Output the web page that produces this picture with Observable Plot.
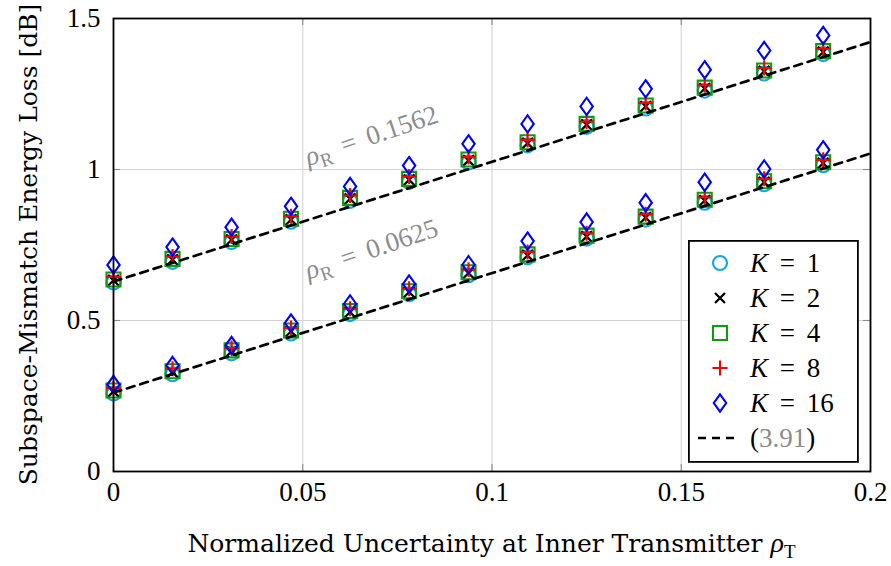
<!DOCTYPE html>
<html><head><meta charset="utf-8">
<script src="https://cdn.jsdelivr.net/npm/d3@7"></script>
<script src="https://cdn.jsdelivr.net/npm/@observablehq/plot@0.6"></script>
<style>
body{margin:0;background:#fff;}
#wrap{position:relative;width:891px;height:566px;overflow:hidden;}
#legend{position:absolute;left:688px;top:240px;}
</style></head><body><div id="wrap"></div>
<script>
// x values: normalized uncertainty at inner transmitter
const rhoT = [0, 0.0156, 0.0312, 0.0469, 0.0625, 0.0781, 0.0938, 0.1094, 0.125, 0.1406, 0.1562, 0.1719, 0.1875];

// rho_R = 0.1562 (upper group)
const hiK1  = [0.626, 0.694, 0.760, 0.827, 0.896, 0.959, 1.023, 1.080, 1.141, 1.202, 1.261, 1.318, 1.382];
const hiK2  = [0.633, 0.701, 0.767, 0.834, 0.903, 0.966, 1.030, 1.087, 1.148, 1.209, 1.268, 1.325, 1.389];
const hiK4  = [0.636, 0.704, 0.770, 0.837, 0.906, 0.969, 1.033, 1.090, 1.151, 1.212, 1.271, 1.328, 1.392];
const hiK8  = [0.644, 0.712, 0.778, 0.845, 0.914, 0.977, 1.041, 1.098, 1.159, 1.220, 1.279, 1.336, 1.400];
const hiK16 = [0.684, 0.743, 0.809, 0.878, 0.944, 1.013, 1.085, 1.151, 1.209, 1.267, 1.330, 1.394, 1.444];

// rho_R = 0.0625 (lower group)
const loK1  = [0.258, 0.322, 0.391, 0.457, 0.521, 0.587, 0.650, 0.709, 0.771, 0.834, 0.890, 0.951, 1.014];
const loK2  = [0.265, 0.329, 0.398, 0.464, 0.528, 0.594, 0.657, 0.716, 0.778, 0.841, 0.897, 0.958, 1.021];
const loK4  = [0.268, 0.332, 0.401, 0.467, 0.531, 0.597, 0.660, 0.719, 0.781, 0.844, 0.900, 0.961, 1.024];
const loK8  = [0.276, 0.340, 0.409, 0.475, 0.539, 0.605, 0.668, 0.727, 0.789, 0.852, 0.908, 0.969, 1.032];
const loK16 = [0.288, 0.351, 0.417, 0.492, 0.555, 0.621, 0.685, 0.763, 0.826, 0.890, 0.958, 1.002, 1.065];

// approximation (3.91): endpoints of the dashed lines
const approxX  = [0, 0.2];
const approxHi = [0.629, 1.422];
const approxLo = [0.261, 1.053];

const xTicks = [0, 0.05, 0.1, 0.15, 0.2];
const xTickLabels = ["0", "0.05", "0.1", "0.15", "0.2"];
const yTicks = [0, 0.5, 1, 1.5];
const yTickLabels = ["0", "0.5", "1", "1.5"];

const kLabels = ["1", "2", "4", "8", "16"];
const annoLabels = ["ρR = 0.1562", "ρR = 0.0625"];
const annoX = [0.0515, 0.0515];
const annoY = [1.012, 0.636];

const xLabel = "Normalized Uncertainty at Inner Transmitter ";
const yLabel = "Subspace-Mismatch Energy Loss [dB]";

// ---- build tables ----
const pts = (arr) => rhoT.map((x, i) => ({x, y: arr[i]}));
const k1 = [...pts(hiK1), ...pts(loK1)];
const k2 = [...pts(hiK2), ...pts(loK2)];
const k4 = [...pts(hiK4), ...pts(loK4)];
const k8 = [...pts(hiK8), ...pts(loK8)];
const k16 = [...pts(hiK16), ...pts(loK16)];
const lines = [
  ...approxX.map((x, i) => ({x, y: approxHi[i], g: "hi"})),
  ...approxX.map((x, i) => ({x, y: approxLo[i], g: "lo"}))
];
const annos = annoLabels.map((label, i) => ({x: annoX[i], y: annoY[i], label}));

const tallDiamond = {
  draw(ctx, size) {
    const r = Math.sqrt(size / Math.PI);
    const w = r * 0.86, h = r * 1.2;
    ctx.moveTo(0, -h); ctx.lineTo(w, 0); ctx.lineTo(0, h); ctx.lineTo(-w, 0); ctx.closePath();
  }
};

const C1 = "#12a6e8", C2 = "#000000", C4 = "#119a11", C8 = "#ff0000", C16 = "#0000ff";
const gridC = "#d2d2d2", tickC = "#8a8a8a";
const SERIF = '"Liberation Serif","Times New Roman",Times,"DejaVu Serif",serif';
const LABELF = '"DejaVu Serif",serif';

const plot = Plot.plot({
  width: 891, height: 566,
  marginLeft: 113, marginRight: 21, marginTop: 18, marginBottom: 95,
  style: {fontFamily: SERIF, fontSize: "27px", background: "white", color: "black", overflow: "visible"},
  x: {domain: [0, 0.2], ticks: xTicks, tickFormat: d => xTickLabels[xTicks.indexOf(d)], tickSize: 0, tickPadding: 10, label: null},
  y: {domain: [0, 1.5], ticks: yTicks, tickFormat: d => yTickLabels[yTicks.indexOf(d)], tickSize: 0, tickPadding: 13, label: null},
  marks: [
    Plot.gridX(xTicks, {stroke: gridC, strokeOpacity: 1, strokeWidth: 1.1}),
    Plot.gridY(yTicks, {stroke: gridC, strokeOpacity: 1, strokeWidth: 1.1}),
    Plot.ruleX(xTicks, {stroke: tickC, strokeWidth: 1.1, insetTop: 446}),
    Plot.ruleX(xTicks, {stroke: tickC, strokeWidth: 1.1, insetBottom: 446}),
    Plot.ruleY(yTicks, {stroke: tickC, strokeWidth: 1.1, insetRight: 750}),
    Plot.ruleY(yTicks, {stroke: tickC, strokeWidth: 1.1, insetLeft: 750}),
    Plot.text(annos, {x: "x", y: "y", text: "label", textAnchor: "start", lineAnchor: "bottom", rotate: -18.5, fill: "#8c8c8c", fontSize: 27}),
    Plot.dot(k1, {x: "x", y: "y", symbol: "circle", r: 7, stroke: C1, strokeWidth: 2.1, fill: "none"}),
    Plot.dot(k2, {x: "x", y: "y", symbol: "times", r: 5, stroke: C2, strokeWidth: 2.3, fill: "none"}),
    Plot.dot(k4, {x: "x", y: "y", symbol: "square", r: 7.9, stroke: C4, strokeWidth: 2.1, fill: "none"}),
    Plot.dot(k8, {x: "x", y: "y", symbol: "plus", r: 4.9, stroke: C8, strokeWidth: 2.1, fill: "none"}),
    Plot.dot(k16, {x: "x", y: "y", symbol: tallDiamond, r: 7.2, stroke: C16, strokeWidth: 2.1, fill: "none"}),
    Plot.line(lines, {x: "x", y: "y", z: "g", stroke: "black", strokeWidth: 2.7, strokeDasharray: "8,6"}),
    Plot.frame({stroke: "black", strokeWidth: 1.8})
  ]
});

const svg = d3.select(plot);
svg.selectAll("text").style("font-family", SERIF);
// rich annotation text: italic rho with subscript R
svg.selectAll("text").filter(function () { return this.textContent.startsWith("ρR"); }).each(function () {
  const t = d3.select(this);
  const rest = this.textContent.slice(2);
  t.text(null).style("word-spacing", "5px");
  t.append("tspan").attr("font-style", "italic").text("ρ");
  t.append("tspan").attr("font-size", "19px").attr("dy", "6").text("R");
  t.append("tspan").attr("dy", "-6").text(rest);
});

// axis labels
const xs = plot.scale("x"), ys = plot.scale("y");
const cx = (xs.range[0] + xs.range[1]) / 2;
const cy = (ys.range[0] + ys.range[1]) / 2;
const xl = svg.append("text").attr("x", cx).attr("y", 552).attr("text-anchor", "middle")
  .style("font-family", LABELF).attr("font-size", 25).attr("fill", "black");
xl.append("tspan").text(xLabel);
xl.append("tspan").attr("font-style", "italic").style("font-family", SERIF).attr("font-size", 28).text("ρ");
xl.append("tspan").style("font-family", SERIF).attr("font-size", 19).attr("dy", 6).text("T");
svg.append("text").attr("transform", `translate(37,${cy}) rotate(-90)`).attr("text-anchor", "middle")
  .style("font-family", LABELF).attr("font-size", 25).attr("fill", "black").text(yLabel);

const wrap = document.getElementById("wrap");
wrap.appendChild(plot);

// legend
const colors = [C1, C2, C4, C8, C16];
const L = d3.create("svg").attr("id", "legend").attr("width", 171).attr("height", 223)
  .style("overflow", "visible");
L.append("rect").attr("x", 0.9).attr("y", 0.9).attr("width", 169).attr("height", 221).attr("fill", "white").attr("stroke", "black").attr("stroke-width", 1.8);
const rowY = i => 23 + i * 35;
const symX = 32;
const symPaths = [
  g => g.append("circle").attr("r", 7),
  g => g.append("path").attr("d", "M-5,-5L5,5M-5,5L5,-5").attr("stroke-width", 2.3),
  g => g.append("rect").attr("x", -7).attr("y", -7).attr("width", 14).attr("height", 14),
  g => g.append("path").attr("d", "M-7.5,0H7.5M0,-7.5V7.5"),
  g => g.append("path").attr("d", "M0,-8.6L6.2,0L0,8.6L-6.2,0Z")
];
kLabels.forEach((k, i) => {
  const g = L.append("g").attr("transform", `translate(${symX},${rowY(i)})`)
    .attr("fill", "none").attr("stroke", colors[i]).attr("stroke-width", 2.1);
  symPaths[i](g);
  const t = L.append("text").attr("x", 62).attr("y", rowY(i)).attr("dy", "0.34em").attr("fill", "black")
    .style("font-family", SERIF).style("word-spacing", "5px").attr("font-size", 27);
  t.append("tspan").attr("font-style", "italic").text("K");
  t.append("tspan").text(" = " + k);
});
L.append("line").attr("x1", 10).attr("x2", 50).attr("y1", rowY(5)).attr("y2", rowY(5))
  .attr("stroke", "black").attr("stroke-width", 2.7).attr("stroke-dasharray", "8,6");
const tl = L.append("text").attr("x", 62).attr("y", rowY(5)).attr("dy", "0.34em").attr("fill", "black")
  .style("font-family", SERIF).attr("font-size", 27);
tl.append("tspan").text("(");
tl.append("tspan").attr("fill", "#8c8c8c").text("3.91");
tl.append("tspan").text(")");
wrap.appendChild(L.node());
</script>
</body></html>
